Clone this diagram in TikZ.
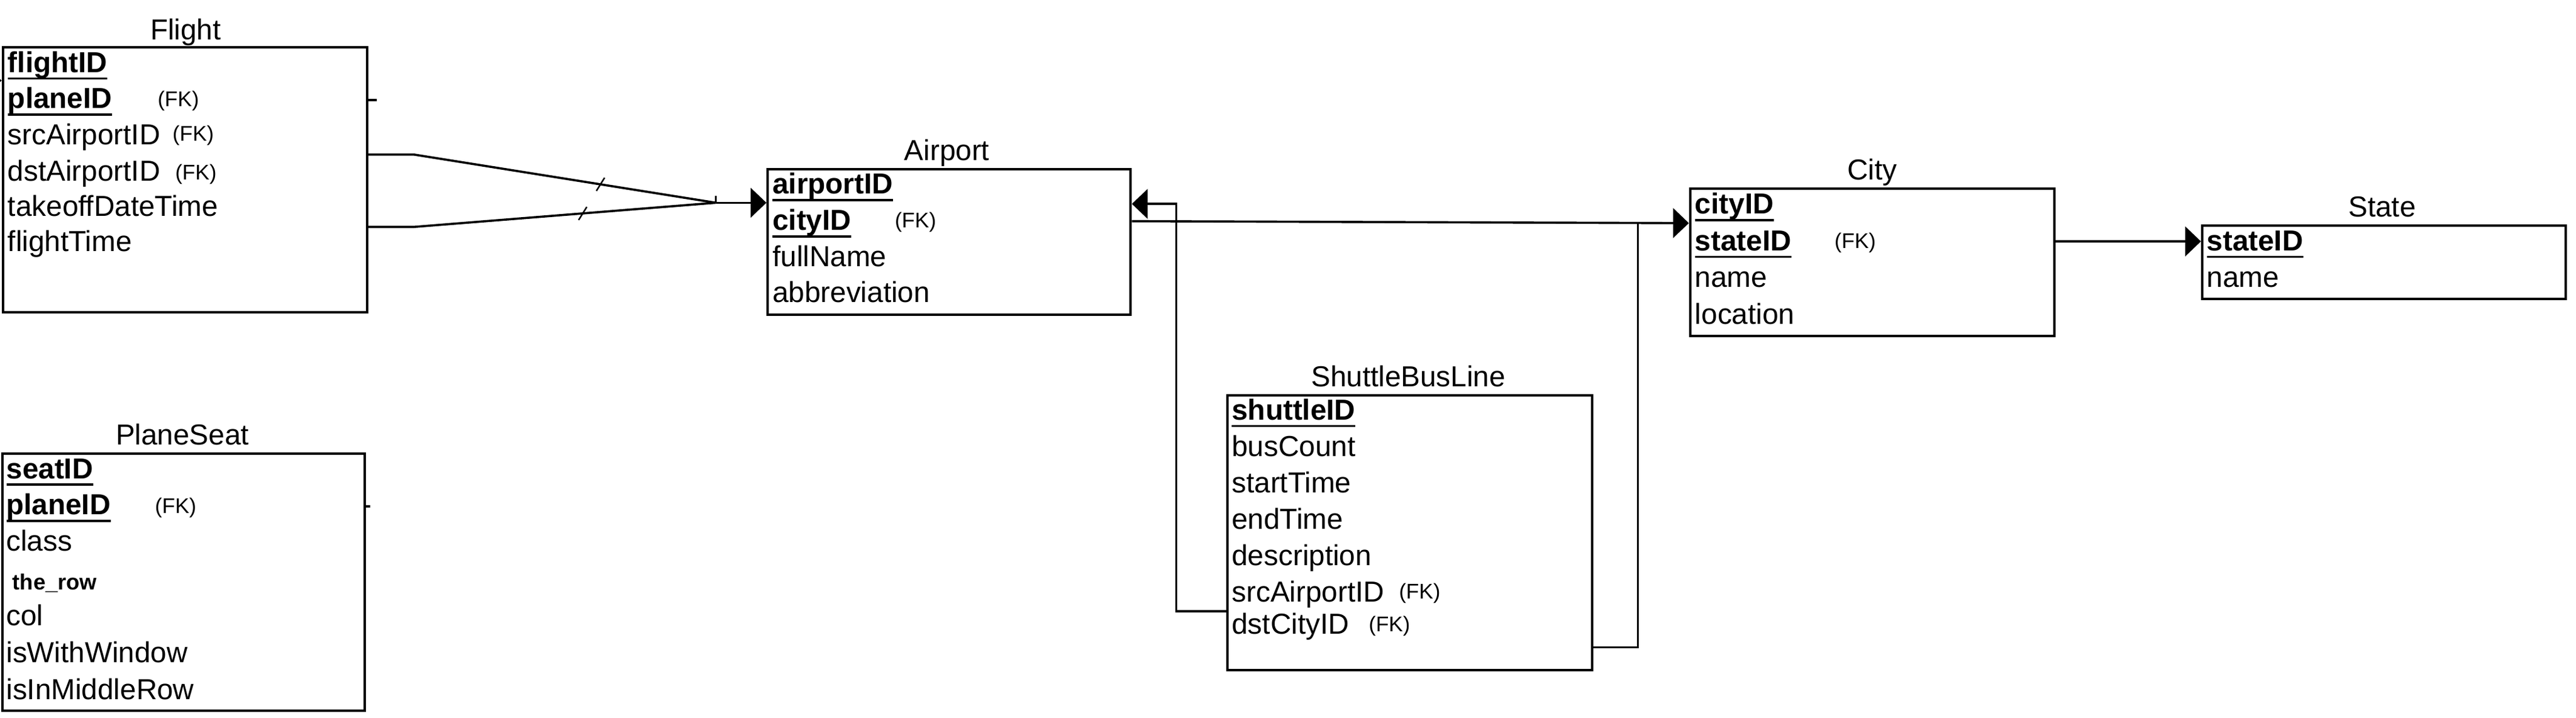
\documentclass[tikz,border=0pt]{standalone}
\usepackage{fontspec}
\setmainfont{Liberation Sans}
\usetikzlibrary{arrows.meta}

\newcommand{\pkey}[1]{\setbox0\hbox{\bfseries #1}\rlap{\rule[-3.2pt]{\wd0}{1pt}}\box0}
\newcommand{\fkey}{\fontsize{9.2pt}{11pt}\selectfont (FK)}

\begin{document}
\begin{tikzpicture}[x=0.25mm,y=-0.25mm,
every node/.style={inner sep=0pt,font=\fontsize{12.5pt}{15pt}\selectfont},
tbl/.style 2 args={draw,line width=1.05pt,anchor=north west,minimum width=#1*0.25mm,minimum height=#2*0.25mm},
fld/.style={anchor=base west},
ttl/.style={anchor=base},
conn/.style={line width=0.95pt},
tick/.style={line width=0.65pt},
fk/.style={conn,-{Triangle[length=2.4mm,width=4.5mm]}}]
\useasboundingbox (0,0) rectangle (1568,436.6);

\node[tbl={221.8}{161}] (flight) at (1,28) {};
\node[ttl] (flightT) at (113,24) {Flight};
\node[fld] (flight1) at (4.5,44) {\pkey{flightID}};
\node[fld] (flight2) at (4.5,66) {\pkey{planeID}};
\node[fld] (flight3) at (4.5,88) {srcAirportID};
\node[fld] (flight4) at (4.5,110) {dstAirportID};
\node[fld] (flight5) at (4.5,131.5) {takeoffDateTime};
\node[fld] (flight6) at (4.5,153) {flightTime};
\node[fld] (flightFK1) at (95.7,64.7) {\fkey};
\node[fld] (flightFK2) at (104.8,85.7) {\fkey};
\node[fld] (flightFK3) at (106.4,109.2) {\fkey};

\node[tbl={220.6}{156.6}] (planeseat) at (0.8,275) {};
\node[ttl] (planeseatT) at (111,270.4) {PlaneSeat};
\node[fld] (seat1) at (3.6,291) {\pkey{seatID}};
\node[fld] (seat2) at (3.6,313) {\pkey{planeID}};
\node[fld] (seat3) at (3.6,335.2) {class};
\node[fld] (seat4) at (7.4,358.5) {\fontsize{9.5pt}{11pt}\selectfont\bfseries the\_row};
\node[fld] (seat5) at (3.6,380.3) {col};
\node[fld] (seat6) at (3.6,402.8) {isWithWindow};
\node[fld] (seat7) at (3.6,425.2) {isInMiddleRow};
\node[fld] (seatFK1) at (94.1,312.3) {\fkey};

\node[tbl={221}{88.5}] (airport) at (466.5,102) {};
\node[ttl] (airportT) at (576.4,97.7) {Airport};
\node[fld] (airport1) at (470,118) {\pkey{airportID}};
\node[fld] (airport2) at (470,140) {\pkey{cityID}};
\node[fld] (airport3) at (470,162.2) {fullName};
\node[fld] (airport4) at (470,183.7) {abbreviation};
\node[fld] (airportFK1) at (544.4,138.5) {\fkey};

\node[tbl={221.8}{167.2}] (shuttle) at (746.5,239.6) {};
\node[ttl] (shuttleT) at (857.2,235.2) {ShuttleBusLine};
\node[fld] (shuttle1) at (749.6,255.3) {\pkey{shuttleID}};
\node[fld] (shuttle2) at (749.6,277.5) {busCount};
\node[fld] (shuttle3) at (749.6,299.6) {startTime};
\node[fld] (shuttle4) at (749.6,321.8) {endTime};
\node[fld] (shuttle5) at (749.6,343.9) {description};
\node[fld] (shuttle6) at (749.6,366.1) {srcAirportID};
\node[fld] (shuttle7) at (749.6,385.4) {dstCityID};
\node[fld] (shuttleFK1) at (851.3,364.1) {\fkey};
\node[fld] (shuttleFK2) at (832.9,384) {\fkey};

\node[tbl={221.7}{89.5}] (city) at (1028,114) {};
\node[ttl] (cityT) at (1139.5,109.5) {City};
\node[fld] (city1) at (1031.5,130) {\pkey{cityID}};
\node[fld] (city2) at (1031.5,152.4) {\pkey{stateID}};
\node[fld] (city3) at (1031.5,174.8) {name};
\node[fld] (city4) at (1031.5,197) {location};
\node[fld] (cityFK1) at (1116.4,151) {\fkey};

\node[tbl={221.1}{44.9}] (state) at (1339.7,136.3) {};
\node[ttl] (stateT) at (1450,131.9) {State};
\node[fld] (state1) at (1343,152.4) {\pkey{stateID}};
\node[fld] (state2) at (1343,174.8) {name};

\coordinate (fjoin) at (435.7,123.3);
\draw[conn] (flight.east |- 0,94) -- (252,94) -- (fjoin);
\draw[conn] (flight.east |- 0,138) -- (252,138) -- (fjoin);
\draw[fk] (fjoin) -- (airport.west |- fjoin);
\draw[tick] (fjoin) -- ++(0,-4.3);
\draw[tick] (363,116.1) -- (368,108.1);
\draw[tick] (352.2,133.8) -- (357.2,125.8);
\draw[conn] (flight.east |- 0,60.8) -- ++(5,0);
\draw[conn] (planeseat.east |- 0,308) -- ++(2.5,0);
\draw[fk] (-30,49) -- (flight.west |- 0,49);

\draw[fk] (airport.east |- 0,134.5) -- (city.west |- 0,135.7);
\coordinate (cjoin) at (997,135.6);
\draw[conn] (shuttle.east |- 0,393.7) -| (cjoin);
\draw[fk] (shuttle.west |- 0,371.7) -| (716,124) -- (airport.east |- 0,124);
\draw[fk] (city.east |- 0,146.8) -- (state.west |- 0,146.8);
\end{tikzpicture}
\end{document}
